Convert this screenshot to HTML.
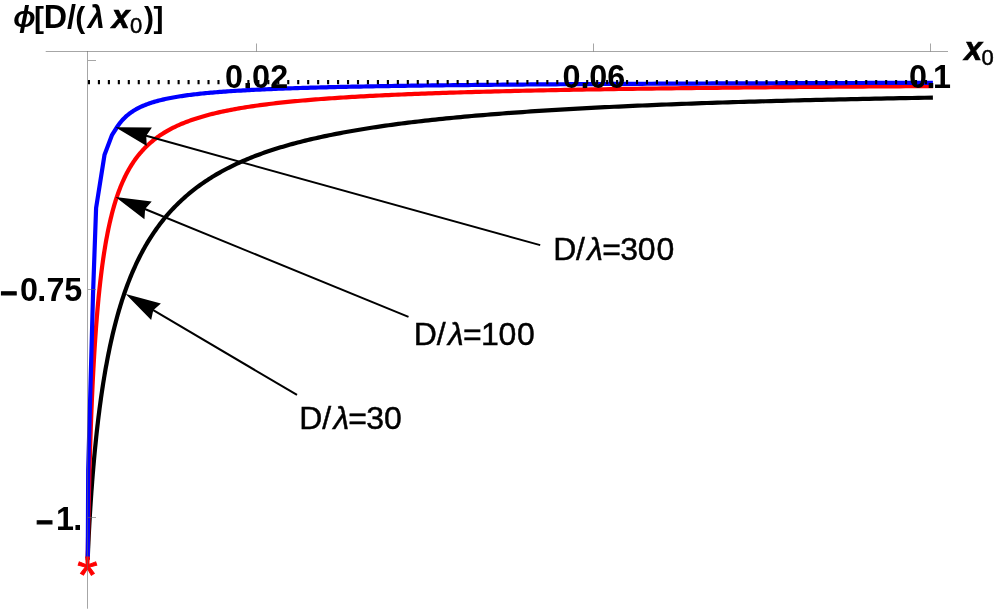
<!DOCTYPE html>
<html><head><meta charset="utf-8"><title>plot</title>
<style>
html,body{margin:0;padding:0;background:#fff;}
body{width:997px;height:612px;overflow:hidden;}
svg{display:block;will-change:transform;}
text{font-family:"Liberation Sans",sans-serif;fill:#000;}
</style></head><body>
<svg width="997" height="612" viewBox="0 0 997 612">
<rect width="997" height="612" fill="#fff"/>
<g fill="none" stroke-width="4.2" stroke-linejoin="round" stroke-linecap="square">
<path d="M87.80 557.57 L87.80 557.57 L87.80 557.57 L87.80 557.56 L87.80 557.54 L87.80 557.52 L87.80 557.49 L87.80 557.44 L87.81 557.37 L87.81 557.28 L87.81 557.18 L87.82 557.05 L87.82 556.90 L87.83 556.72 L87.84 556.51 L87.84 556.27 L87.85 556.00 L87.87 555.69 L87.88 555.35 L87.89 554.97 L87.91 554.55 L87.92 554.10 L87.94 553.61 L87.96 553.07 L87.98 552.50 L88.01 551.88 L88.03 551.22 L88.06 550.52 L88.09 549.77 L88.12 548.98 L88.16 548.15 L88.20 547.28 L88.23 546.36 L88.28 545.40 L88.32 544.39 L88.37 543.34 L88.42 542.25 L88.47 541.11 L88.53 539.93 L88.59 538.70 L88.65 537.43 L88.71 536.11 L88.78 534.75 L88.86 533.34 L88.93 531.89 L89.01 530.40 L89.09 528.85 L89.18 527.27 L89.27 525.64 L89.36 523.96 L89.46 522.24 L89.56 520.48 L89.67 518.67 L89.78 516.82 L89.89 514.93 L90.01 512.99 L90.13 511.01 L90.26 509.00 L90.39 506.94 L90.53 504.84 L90.67 502.70 L90.81 500.53 L90.96 498.32 L91.12 496.07 L91.28 493.78 L91.44 491.47 L91.62 489.12 L91.79 486.73 L91.97 484.32 L92.16 481.88 L92.35 479.40 L92.55 476.90 L92.75 474.38 L92.96 471.83 L93.18 469.25 L93.40 466.65 L93.63 464.03 L93.86 461.39 L94.10 458.73 L94.34 456.06 L94.59 453.36 L94.85 450.65 L95.12 447.92 L95.39 445.18 L95.67 442.43 L95.95 439.67 L96.24 436.90 L96.54 434.11 L96.84 431.32 L97.16 428.52 L97.47 425.72 L97.80 422.91 L98.13 420.10 L98.47 417.28 L98.82 414.46 L99.18 411.64 L99.54 408.82 L99.91 406.00 L100.29 403.18 L100.68 400.37 L101.07 397.55 L101.47 394.74 L101.88 391.94 L102.30 389.13 L102.73 386.34 L103.16 383.55 L103.61 380.77 L104.06 377.99 L104.52 375.23 L104.99 372.47 L105.46 369.73 L105.95 366.99 L106.45 364.26 L106.95 361.55 L107.46 358.84 L107.98 356.15 L108.51 353.47 L109.06 350.81 L109.60 348.15 L110.16 345.51 L110.73 342.89 L111.31 340.28 L111.90 337.68 L112.50 335.10 L113.10 332.54 L113.72 329.99 L114.35 327.45 L114.98 324.94 L115.63 322.44 L116.29 319.95 L116.96 317.48 L117.63 315.03 L118.32 312.60 L119.02 310.19 L119.73 307.79 L120.45 305.41 L121.18 303.05 L121.92 300.71 L122.68 298.38 L123.44 296.07 L124.22 293.79 L125.00 291.52 L125.80 289.27 L126.61 287.03 L127.43 284.82 L128.26 282.62 L129.10 280.45 L129.96 278.29 L130.82 276.15 L131.70 274.03 L132.59 271.93 L133.49 269.85 L134.41 267.79 L135.33 265.75 L136.27 263.72 L137.22 261.72 L138.18 259.73 L139.16 257.76 L140.15 255.81 L141.15 253.88 L142.16 251.97 L143.18 250.07 L144.22 248.20 L145.27 246.34 L146.34 244.50 L147.42 242.68 L148.51 240.88 L149.61 239.10 L150.73 237.33 L151.86 235.58 L153.00 233.85 L154.16 232.14 L155.33 230.44 L156.51 228.77 L157.71 227.11 L158.93 225.46 L160.15 223.84 L161.39 222.23 L162.65 220.63 L163.91 219.06 L165.20 217.50 L166.49 215.96 L167.81 214.43 L169.13 212.92 L170.47 211.43 L171.83 209.95 L173.20 208.49 L174.58 207.05 L175.98 205.62 L177.40 204.20 L178.83 202.80 L180.27 201.42 L181.73 200.05 L183.21 198.70 L184.70 197.36 L186.20 196.04 L187.73 194.73 L189.26 193.44 L190.82 192.16 L192.38 190.90 L193.97 189.65 L195.57 188.41 L197.19 187.19 L198.82 185.99 L200.47 184.79 L202.13 183.61 L203.81 182.45 L205.51 181.29 L207.23 180.16 L208.96 179.03 L210.70 177.92 L212.47 176.82 L214.25 175.73 L216.05 174.66 L217.86 173.60 L219.69 172.56 L221.54 171.52 L223.41 170.50 L225.29 169.50 L227.19 168.50 L229.11 167.52 L231.05 166.55 L233.00 165.59 L234.97 164.64 L236.96 163.71 L238.97 162.79 L240.99 161.87 L243.03 160.98 L245.09 160.09 L247.17 159.21 L249.27 158.35 L251.39 157.49 L253.52 156.65 L255.67 155.82 L257.84 155.00 L260.03 154.19 L262.24 153.39 L264.47 152.60 L266.71 151.82 L268.98 151.05 L271.26 150.29 L273.56 149.55 L275.89 148.81 L278.23 148.08 L280.59 147.36 L282.97 146.65 L285.37 145.94 L287.79 145.25 L290.22 144.57 L292.68 143.89 L295.16 143.22 L297.66 142.57 L300.18 141.92 L302.72 141.27 L305.28 140.64 L307.85 140.01 L310.45 139.39 L313.07 138.78 L315.71 138.18 L318.37 137.58 L321.05 136.99 L323.76 136.41 L326.48 135.84 L329.22 135.27 L331.99 134.71 L334.77 134.16 L337.58 133.61 L340.41 133.07 L343.25 132.54 L346.12 132.01 L349.02 131.49 L351.93 130.97 L354.86 130.47 L357.82 129.96 L360.80 129.47 L363.80 128.98 L366.82 128.49 L369.86 128.01 L372.93 127.54 L376.02 127.07 L379.13 126.61 L382.26 126.16 L385.42 125.70 L388.59 125.26 L391.79 124.82 L395.02 124.38 L398.26 123.95 L401.53 123.53 L404.82 123.11 L408.13 122.70 L411.47 122.29 L414.83 121.88 L418.21 121.48 L421.62 121.09 L425.05 120.70 L428.50 120.31 L431.98 119.93 L435.48 119.55 L439.00 119.18 L442.55 118.81 L446.12 118.45 L449.72 118.09 L453.34 117.74 L456.98 117.39 L460.65 117.04 L464.34 116.70 L468.05 116.36 L471.79 116.02 L475.56 115.69 L479.35 115.37 L483.16 115.05 L487.00 114.73 L490.86 114.41 L494.75 114.10 L498.66 113.79 L502.60 113.49 L506.56 113.19 L510.55 112.89 L514.57 112.60 L518.61 112.31 L522.67 112.03 L526.76 111.74 L530.87 111.46 L535.02 111.19 L539.18 110.92 L543.37 110.65 L547.59 110.38 L551.84 110.12 L556.11 109.86 L560.40 109.60 L564.73 109.35 L569.07 109.10 L573.45 108.85 L577.85 108.61 L582.28 108.37 L586.73 108.13 L591.22 107.89 L595.72 107.66 L600.26 107.43 L604.82 107.20 L609.41 106.98 L614.03 106.76 L618.67 106.54 L623.34 106.32 L628.04 106.11 L632.76 105.90 L637.51 105.69 L642.29 105.48 L647.10 105.28 L651.94 105.08 L656.80 104.88 L661.69 104.68 L666.61 104.49 L671.56 104.30 L676.53 104.11 L681.54 103.92 L686.57 103.74 L691.63 103.56 L696.72 103.38 L701.83 103.20 L706.98 103.02 L712.15 102.85 L717.36 102.68 L722.59 102.51 L727.85 102.34 L733.14 102.18 L738.46 102.02 L743.80 101.86 L749.18 101.70 L754.59 101.54 L760.02 101.38 L765.49 101.23 L770.98 101.08 L776.51 100.93 L782.06 100.78 L787.65 100.64 L793.26 100.50 L798.90 100.35 L804.58 100.21 L810.28 100.08 L816.02 99.94 L821.78 99.80 L827.57 99.67 L833.40 99.54 L839.25 99.41 L845.14 99.28 L851.06 99.16 L857.00 99.03 L862.98 98.91 L868.99 98.79 L875.03 98.67 L881.10 98.55 L887.21 98.43 L893.34 98.32 L899.50 98.20 L905.70 98.09 L911.93 97.98 L918.19 97.87 L924.48 97.76 L930.80 97.65" stroke="#000"/>
<path d="M87.80 555.81 L87.80 555.81 L87.80 555.80 L87.80 555.78 L87.80 555.75 L87.80 555.69 L87.80 555.60 L87.80 555.48 L87.81 555.32 L87.81 555.12 L87.81 554.86 L87.82 554.55 L87.82 554.17 L87.83 553.73 L87.84 553.22 L87.84 552.64 L87.85 551.97 L87.87 551.22 L87.88 550.39 L87.89 549.46 L87.91 548.44 L87.92 547.32 L87.94 546.10 L87.96 544.78 L87.98 543.36 L88.01 541.83 L88.03 540.20 L88.06 538.46 L88.09 536.61 L88.12 534.66 L88.16 532.60 L88.20 530.44 L88.23 528.17 L88.28 525.80 L88.32 523.33 L88.37 520.76 L88.42 518.09 L88.47 515.32 L88.53 512.46 L88.59 509.51 L88.65 506.47 L88.71 503.34 L88.78 500.13 L88.86 496.84 L88.93 493.48 L89.01 490.04 L89.09 486.53 L89.18 482.95 L89.27 479.30 L89.36 475.60 L89.46 471.84 L89.56 468.03 L89.67 464.16 L89.78 460.25 L89.89 456.30 L90.01 452.31 L90.13 448.28 L90.26 444.22 L90.39 440.12 L90.53 436.00 L90.67 431.86 L90.81 427.70 L90.96 423.52 L91.12 419.33 L91.28 415.13 L91.44 410.92 L91.62 406.70 L91.79 402.48 L91.97 398.26 L92.16 394.05 L92.35 389.84 L92.55 385.63 L92.75 381.44 L92.96 377.26 L93.18 373.09 L93.40 368.94 L93.63 364.81 L93.86 360.70 L94.10 356.61 L94.34 352.54 L94.59 348.50 L94.85 344.49 L95.12 340.50 L95.39 336.54 L95.67 332.61 L95.95 328.72 L96.24 324.85 L96.54 321.02 L96.84 317.23 L97.16 313.48 L97.47 309.76 L97.80 306.08 L98.13 302.45 L98.47 298.85 L98.82 295.30 L99.18 291.79 L99.54 288.32 L99.91 284.90 L100.29 281.52 L100.68 278.19 L101.07 274.90 L101.47 271.66 L101.88 268.46 L102.30 265.31 L102.73 262.20 L103.16 259.14 L103.61 256.12 L104.06 253.15 L104.52 250.23 L104.99 247.35 L105.46 244.51 L105.95 241.72 L106.45 238.97 L106.95 236.27 L107.46 233.61 L107.98 230.99 L108.51 228.41 L109.06 225.88 L109.60 223.39 L110.16 220.94 L110.73 218.54 L111.31 216.17 L111.90 213.84 L112.50 211.56 L113.10 209.31 L113.72 207.10 L114.35 204.94 L114.98 202.81 L115.63 200.71 L116.29 198.66 L116.96 196.64 L117.63 194.66 L118.32 192.72 L119.02 190.81 L119.73 188.94 L120.45 187.10 L121.18 185.29 L121.92 183.52 L122.68 181.78 L123.44 180.08 L124.22 178.41 L125.00 176.76 L125.80 175.15 L126.61 173.57 L127.43 172.02 L128.26 170.50 L129.10 169.01 L129.96 167.54 L130.82 166.11 L131.70 164.70 L132.59 163.32 L133.49 161.96 L134.41 160.63 L135.33 159.33 L136.27 158.05 L137.22 156.79 L138.18 155.56 L139.16 154.35 L140.15 153.17 L141.15 152.01 L142.16 150.87 L143.18 149.75 L144.22 148.65 L145.27 147.57 L146.34 146.52 L147.42 145.48 L148.51 144.47 L149.61 143.47 L150.73 142.49 L151.86 141.53 L153.00 140.59 L154.16 139.67 L155.33 138.76 L156.51 137.87 L157.71 137.00 L158.93 136.15 L160.15 135.31 L161.39 134.48 L162.65 133.67 L163.91 132.88 L165.20 132.10 L166.49 131.33 L167.81 130.58 L169.13 129.85 L170.47 129.13 L171.83 128.42 L173.20 127.72 L174.58 127.04 L175.98 126.36 L177.40 125.71 L178.83 125.06 L180.27 124.42 L181.73 123.80 L183.21 123.19 L184.70 122.59 L186.20 122.00 L187.73 121.42 L189.26 120.85 L190.82 120.29 L192.38 119.74 L193.97 119.20 L195.57 118.67 L197.19 118.15 L198.82 117.64 L200.47 117.14 L202.13 116.65 L203.81 116.16 L205.51 115.69 L207.23 115.22 L208.96 114.76 L210.70 114.31 L212.47 113.86 L214.25 113.43 L216.05 113.00 L217.86 112.58 L219.69 112.16 L221.54 111.75 L223.41 111.35 L225.29 110.96 L227.19 110.57 L229.11 110.19 L231.05 109.82 L233.00 109.45 L234.97 109.09 L236.96 108.73 L238.97 108.38 L240.99 108.04 L243.03 107.70 L245.09 107.36 L247.17 107.03 L249.27 106.71 L251.39 106.39 L253.52 106.08 L255.67 105.77 L257.84 105.47 L260.03 105.17 L262.24 104.88 L264.47 104.59 L266.71 104.30 L268.98 104.02 L271.26 103.75 L273.56 103.48 L275.89 103.21 L278.23 102.95 L280.59 102.69 L282.97 102.43 L285.37 102.18 L287.79 101.93 L290.22 101.69 L292.68 101.45 L295.16 101.21 L297.66 100.98 L300.18 100.75 L302.72 100.52 L305.28 100.30 L307.85 100.08 L310.45 99.86 L313.07 99.65 L315.71 99.44 L318.37 99.23 L321.05 99.03 L323.76 98.83 L326.48 98.63 L329.22 98.43 L331.99 98.24 L334.77 98.05 L337.58 97.86 L340.41 97.68 L343.25 97.50 L346.12 97.32 L349.02 97.14 L351.93 96.97 L354.86 96.80 L357.82 96.63 L360.80 96.46 L363.80 96.29 L366.82 96.13 L369.86 95.97 L372.93 95.81 L376.02 95.66 L379.13 95.50 L382.26 95.35 L385.42 95.20 L388.59 95.06 L391.79 94.91 L395.02 94.77 L398.26 94.63 L401.53 94.49 L404.82 94.35 L408.13 94.21 L411.47 94.08 L414.83 93.94 L418.21 93.81 L421.62 93.69 L425.05 93.56 L428.50 93.43 L431.98 93.31 L435.48 93.19 L439.00 93.07 L442.55 92.95 L446.12 92.83 L449.72 92.71 L453.34 92.60 L456.98 92.48 L460.65 92.37 L464.34 92.26 L468.05 92.15 L471.79 92.05 L475.56 91.94 L479.35 91.84 L483.16 91.73 L487.00 91.63 L490.86 91.53 L494.75 91.43 L498.66 91.33 L502.60 91.23 L506.56 91.14 L510.55 91.04 L514.57 90.95 L518.61 90.86 L522.67 90.77 L526.76 90.68 L530.87 90.59 L535.02 90.50 L539.18 90.41 L543.37 90.33 L547.59 90.24 L551.84 90.16 L556.11 90.08 L560.40 89.99 L564.73 89.91 L569.07 89.83 L573.45 89.76 L577.85 89.68 L582.28 89.60 L586.73 89.52 L591.22 89.45 L595.72 89.38 L600.26 89.30 L604.82 89.23 L609.41 89.16 L614.03 89.09 L618.67 89.02 L623.34 88.95 L628.04 88.88 L632.76 88.81 L637.51 88.75 L642.29 88.68 L647.10 88.62 L651.94 88.55 L656.80 88.49 L661.69 88.42 L666.61 88.36 L671.56 88.30 L676.53 88.24 L681.54 88.18 L686.57 88.12 L691.63 88.06 L696.72 88.00 L701.83 87.95 L706.98 87.89 L712.15 87.83 L717.36 87.78 L722.59 87.72 L727.85 87.67 L733.14 87.62 L738.46 87.56 L743.80 87.51 L749.18 87.46 L754.59 87.41 L760.02 87.36 L765.49 87.31 L770.98 87.26 L776.51 87.21 L782.06 87.16 L787.65 87.11 L793.26 87.06 L798.90 87.02 L804.58 86.97 L810.28 86.92 L816.02 86.88 L821.78 86.83 L827.57 86.79 L833.40 86.75 L839.25 86.70 L845.14 86.66 L851.06 86.62 L857.00 86.57 L862.98 86.53 L868.99 86.49 L875.03 86.45 L881.10 86.41 L887.21 86.37 L893.34 86.33 L899.50 86.29 L905.70 86.25 L911.93 86.22 L918.19 86.18 L924.48 86.14 L930.80 86.10" stroke="#f00"/>
<path d="M87.80 556.00 L88.20 470.00 L93.00 295.00 L96.10 208.00 L104.55 154.70 L112.10 134.80 L116.96 127.24 L117.63 126.20 L118.32 125.19 L119.02 124.22 L119.73 123.27 L120.45 122.36 L121.18 121.47 L121.92 120.60 L122.68 119.77 L123.44 118.95 L124.22 118.16 L125.00 117.40 L125.80 116.65 L126.61 115.93 L127.43 115.23 L128.26 114.54 L129.10 113.88 L129.96 113.23 L130.82 112.61 L131.70 112.00 L132.59 111.40 L133.49 110.82 L134.41 110.26 L135.33 109.71 L136.27 109.18 L137.22 108.66 L138.18 108.15 L139.16 107.65 L140.15 107.17 L141.15 106.70 L142.16 106.24 L143.18 105.80 L144.22 105.36 L145.27 104.94 L146.34 104.52 L147.42 104.12 L148.51 103.72 L149.61 103.34 L150.73 102.96 L151.86 102.59 L153.00 102.23 L154.16 101.88 L155.33 101.54 L156.51 101.20 L157.71 100.87 L158.93 100.55 L160.15 100.24 L161.39 99.93 L162.65 99.63 L163.91 99.34 L165.20 99.06 L166.49 98.77 L167.81 98.50 L169.13 98.23 L170.47 97.97 L171.83 97.71 L173.20 97.46 L174.58 97.21 L175.98 96.97 L177.40 96.73 L178.83 96.50 L180.27 96.27 L181.73 96.05 L183.21 95.83 L184.70 95.62 L186.20 95.41 L187.73 95.20 L189.26 95.00 L190.82 94.80 L192.38 94.61 L193.97 94.42 L195.57 94.23 L197.19 94.05 L198.82 93.87 L200.47 93.69 L202.13 93.52 L203.81 93.35 L205.51 93.18 L207.23 93.02 L208.96 92.86 L210.70 92.70 L212.47 92.55 L214.25 92.40 L216.05 92.25 L217.86 92.10 L219.69 91.96 L221.54 91.81 L223.41 91.67 L225.29 91.54 L227.19 91.40 L229.11 91.27 L231.05 91.14 L233.00 91.01 L234.97 90.89 L236.96 90.77 L238.97 90.64 L240.99 90.53 L243.03 90.41 L245.09 90.29 L247.17 90.18 L249.27 90.07 L251.39 89.96 L253.52 89.85 L255.67 89.74 L257.84 89.64 L260.03 89.54 L262.24 89.44 L264.47 89.34 L266.71 89.24 L268.98 89.14 L271.26 89.05 L273.56 88.95 L275.89 88.86 L278.23 88.77 L280.59 88.68 L282.97 88.59 L285.37 88.51 L287.79 88.42 L290.22 88.34 L292.68 88.25 L295.16 88.17 L297.66 88.09 L300.18 88.01 L302.72 87.93 L305.28 87.86 L307.85 87.78 L310.45 87.71 L313.07 87.63 L315.71 87.56 L318.37 87.49 L321.05 87.42 L323.76 87.35 L326.48 87.28 L329.22 87.21 L331.99 87.15 L334.77 87.08 L337.58 87.02 L340.41 86.95 L343.25 86.89 L346.12 86.83 L349.02 86.77 L351.93 86.71 L354.86 86.65 L357.82 86.59 L360.80 86.53 L363.80 86.48 L366.82 86.42 L369.86 86.36 L372.93 86.31 L376.02 86.25 L379.13 86.20 L382.26 86.15 L385.42 86.10 L388.59 86.04 L391.79 85.99 L395.02 85.94 L398.26 85.89 L401.53 85.85 L404.82 85.80 L408.13 85.75 L411.47 85.70 L414.83 85.66 L418.21 85.61 L421.62 85.57 L425.05 85.52 L428.50 85.48 L431.98 85.43 L435.48 85.39 L439.00 85.35 L442.55 85.31 L446.12 85.27 L449.72 85.23 L453.34 85.19 L456.98 85.15 L460.65 85.11 L464.34 85.07 L468.05 85.03 L471.79 84.99 L475.56 84.95 L479.35 84.92 L483.16 84.88 L487.00 84.84 L490.86 84.81 L494.75 84.77 L498.66 84.74 L502.60 84.70 L506.56 84.67 L510.55 84.64 L514.57 84.60 L518.61 84.57 L522.67 84.54 L526.76 84.50 L530.87 84.47 L535.02 84.44 L539.18 84.41 L543.37 84.38 L547.59 84.35 L551.84 84.32 L556.11 84.29 L560.40 84.26 L564.73 84.23 L569.07 84.20 L573.45 84.17 L577.85 84.15 L582.28 84.12 L586.73 84.09 L591.22 84.06 L595.72 84.04 L600.26 84.01 L604.82 83.98 L609.41 83.96 L614.03 83.93 L618.67 83.91 L623.34 83.88 L628.04 83.86 L632.76 83.83 L637.51 83.81 L642.29 83.78 L647.10 83.76 L651.94 83.74 L656.80 83.71 L661.69 83.69 L666.61 83.67 L671.56 83.65 L676.53 83.62 L681.54 83.60 L686.57 83.58 L691.63 83.56 L696.72 83.54 L701.83 83.51 L706.98 83.49 L712.15 83.47 L717.36 83.45 L722.59 83.43 L727.85 83.41 L733.14 83.39 L738.46 83.37 L743.80 83.35 L749.18 83.33 L754.59 83.31 L760.02 83.30 L765.49 83.28 L770.98 83.26 L776.51 83.24 L782.06 83.22 L787.65 83.20 L793.26 83.19 L798.90 83.17 L804.58 83.15 L810.28 83.13 L816.02 83.12 L821.78 83.10 L827.57 83.08 L833.40 83.07 L839.25 83.05 L845.14 83.03 L851.06 83.02 L857.00 83.00 L862.98 82.99 L868.99 82.97 L875.03 82.95 L881.10 82.94 L887.21 82.92 L893.34 82.91 L899.50 82.89 L905.70 82.88 L911.93 82.86 L918.19 82.85 L924.48 82.84 L930.80 82.82" stroke="#00f"/>
</g>
<text x="77.36" y="592.8" font-size="52.5" style="fill:#f00" stroke="#f00" stroke-width="0.9">*</text>
<line x1="87.9" y1="82.2" x2="932" y2="82.2" stroke="#000" stroke-width="4.2" stroke-dasharray="2.1 7.865"/>
<g fill="#666" fill-opacity="0.58">
<rect x="45.7" y="51" width="902.3" height="1"/>
<rect x="87" y="51" width="1" height="557.7"/>
<rect x="256" y="43.5" width="1" height="8"/>
<rect x="593" y="43.5" width="1" height="8"/>
<rect x="930" y="43.5" width="1" height="8"/>
<rect x="88" y="60" width="8" height="1"/>
<rect x="88" y="289" width="8" height="1"/>
<rect x="88" y="517" width="8" height="1"/>
</g>
<line x1="540.20" y1="245.10" x2="145.27" y2="135.58" stroke="#000" stroke-width="2"/>
<polygon points="115.40,127.30 146.75,145.96 146.24,135.85 151.89,127.46" fill="#000"/>
<line x1="408.50" y1="316.90" x2="144.19" y2="208.74" stroke="#000" stroke-width="2"/>
<polygon points="115.50,197.00 144.44,219.22 145.12,209.12 151.71,201.45" fill="#000"/>
<line x1="297.00" y1="394.90" x2="152.40" y2="309.64" stroke="#000" stroke-width="2"/>
<polygon points="125.70,293.90 151.15,320.05 153.27,310.15 160.90,303.51" fill="#000"/>
<text><tspan x="225.12" y="87.50" font-size="32.3" font-weight="bold">0</tspan><tspan x="243.19" y="87.50" font-size="32.3" font-weight="bold">.</tspan><tspan x="252.10" y="87.50" font-size="32.3" font-weight="bold">0</tspan><tspan x="270.17" y="87.50" font-size="32.3" font-weight="bold">2</tspan></text>
<text><tspan x="562.39" y="87.50" font-size="32.3" font-weight="bold">0</tspan><tspan x="580.42" y="87.50" font-size="32.3" font-weight="bold">.</tspan><tspan x="589.28" y="87.50" font-size="32.3" font-weight="bold">0</tspan><tspan x="607.21" y="87.50" font-size="32.3" font-weight="bold">6</tspan></text>
<text><tspan x="908.90" y="87.50" font-size="32.3" font-weight="bold">0</tspan><tspan x="926.58" y="87.50" font-size="32.3" font-weight="bold">.</tspan><tspan x="933.10" y="87.50" font-size="32.3" font-weight="bold">1</tspan></text>
<text><tspan x="0.32" y="303.37" font-size="29.4" font-weight="bold" stroke="#000" stroke-width="1.1">−</tspan><tspan x="20.05" y="301.10" font-size="32.3" font-weight="bold">0</tspan><tspan x="37.18" y="301.10" font-size="32.3" font-weight="bold">.</tspan><tspan x="46.58" y="301.10" font-size="32.3" font-weight="bold">7</tspan><tspan x="64.30" y="301.10" font-size="32.3" font-weight="bold">5</tspan></text>
<text><tspan x="36.02" y="531.97" font-size="29.4" font-weight="bold" stroke="#000" stroke-width="1.1">−</tspan><tspan x="56.10" y="530.00" font-size="32.3" font-weight="bold">1</tspan><tspan x="73.28" y="530.00" font-size="32.3" font-weight="bold">.</tspan></text>
<text><tspan x="13.28" y="27.30" font-size="29.6" font-weight="bold" font-style="italic">ϕ</tspan><tspan x="34.03" y="27.60" font-size="30" font-weight="bold">[</tspan><tspan x="43.87" y="27.60" font-size="32.3" font-weight="bold">D</tspan><tspan x="67.10" y="27.60" font-size="32.3" font-weight="bold">/</tspan><tspan x="75.33" y="27.60" font-size="30" font-weight="bold">(</tspan><tspan x="87.77" y="27.60" font-size="30.5" font-weight="bold" font-style="italic">λ</tspan><tspan x="111.77" y="27.60" font-size="32.3" font-weight="bold" font-style="italic" stroke="#000" stroke-width="0.6">x</tspan><tspan x="129.97" y="33.10" font-size="22" stroke="#000" stroke-width="0.5">0</tspan><tspan x="143.97" y="27.60" font-size="30" font-weight="bold">)</tspan><tspan x="153.47" y="27.60" font-size="30" font-weight="bold">]</tspan></text>
<text><tspan x="964.17" y="59.90" font-size="32.3" font-weight="bold" font-style="italic" stroke="#000" stroke-width="0.6">x</tspan><tspan x="981.47" y="65.10" font-size="22" stroke="#000" stroke-width="0.5">0</tspan></text>
<text stroke="#000" stroke-width="0.45"><tspan x="553.17" y="260.40" font-size="32">D</tspan><tspan x="576.03" y="260.40" font-size="32">/</tspan><tspan x="587.32" y="260.40" font-size="32" font-style="italic">λ</tspan><tspan x="602.27" y="260.40" font-size="32">=</tspan><tspan x="620.22" y="260.40" font-size="32">3</tspan><tspan x="637.78" y="260.40" font-size="32">0</tspan><tspan x="656.38" y="260.40" font-size="32">0</tspan></text>
<text stroke="#000" stroke-width="0.45"><tspan x="413.87" y="344.60" font-size="32">D</tspan><tspan x="436.73" y="344.60" font-size="32">/</tspan><tspan x="448.02" y="344.60" font-size="32" font-style="italic">λ</tspan><tspan x="462.97" y="344.60" font-size="32">=</tspan><tspan x="481.02" y="344.60" font-size="32">1</tspan><tspan x="498.48" y="344.60" font-size="32">0</tspan><tspan x="517.08" y="344.60" font-size="32">0</tspan></text>
<text stroke="#000" stroke-width="0.45"><tspan x="299.27" y="429.40" font-size="32">D</tspan><tspan x="322.13" y="429.40" font-size="32">/</tspan><tspan x="333.42" y="429.40" font-size="32" font-style="italic">λ</tspan><tspan x="348.37" y="429.40" font-size="32">=</tspan><tspan x="366.32" y="429.40" font-size="32">3</tspan><tspan x="383.88" y="429.40" font-size="32">0</tspan></text>
</svg>
</body></html>
